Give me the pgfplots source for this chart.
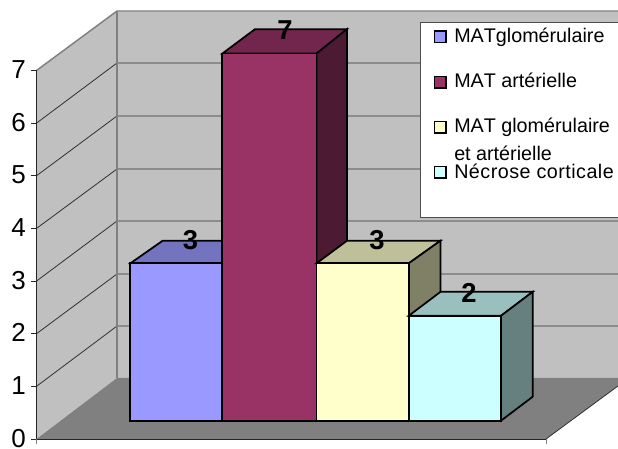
\documentclass[border=0pt]{standalone}
\usepackage{pgfplots}
\pgfplotsset{compat=1.18}
\usepackage{fontspec}
\setmainfont{Liberation Sans}
\definecolor{wall}{HTML}{C0C0C0}
\definecolor{floorc}{HTML}{808080}
\definecolor{gridc}{HTML}{303030}
\definecolor{blueF}{HTML}{9999FF}
\definecolor{blueT}{HTML}{7373BF}
\definecolor{plumF}{HTML}{993366}
\definecolor{plumT}{HTML}{73264D}
\definecolor{plumS}{HTML}{4D1A33}
\definecolor{creamF}{HTML}{FFFFCC}
\definecolor{creamT}{HTML}{BFBF99}
\definecolor{creamS}{HTML}{808066}
\definecolor{aquaF}{HTML}{CCFFFF}
\definecolor{aquaT}{HTML}{99BFBF}
\definecolor{aquaS}{HTML}{668080}
\begin{document}
\begin{tikzpicture}
\path[use as bounding box] (0,0) rectangle (463.5pt,336.75pt);

% Chamber: walls, floor and value grid; y is the count on the front plane
\begin{axis}[
  at={(27.375pt,7.5pt)}, anchor=south west, scale only axis,
  width=382.125pt, height=276.375pt,
  xmin=36.5, xmax=546, ymin=0, ymax=7,
  clip=false, axis on top,
  axis x line=bottom, axis y line=left,
  axis line style={-, line width=0.7pt, color=black!85},
  ytick={0,1,2,3,4,5,6,7},
  xtick={546}, xticklabels={},
  extra x ticks={36.5}, extra x tick labels={},
  extra x tick style={tick style={color=black!85, line width=0.6pt}},
  tick align=outside, major tick length=4pt,
  ytick style={color=black!85, line width=0.6pt},
  xtick style={color=gray, line width=0.6pt},
  yticklabel style={font=\fontsize{19.5}{20}\selectfont, inner sep=0pt, xshift=-3.8pt, yshift=0.6pt},
  /pgf/number format/assume math mode=true,
  no markers,
]
\addplot[fill=wall, draw=none] coordinates {(36.5,0)(36.5,7)(117,8.13)(117,1.159)} -- cycle;
\addplot[fill=wall, draw=none] coordinates {(117,1.159)(117,8.13)(618,8.13)(618,1.159)} -- cycle;
\addplot[fill=floorc, draw=none] coordinates {(36.5,0)(117,1.159)(618,1.159)(618,1.007)(546,0)} -- cycle;
\addplot[gridc, line width=0.6pt] coordinates {(546,0)(618,1.007)};
\addplot[gridc, line width=0.6pt] coordinates {(36.5,1)(117,2.146)(618,2.146)};
\addplot[gridc, line width=0.6pt] coordinates {(36.5,2)(117,3.134)(618,3.134)};
\addplot[gridc, line width=0.6pt] coordinates {(36.5,3)(117,4.141)(618,4.141)};
\addplot[gridc, line width=0.6pt] coordinates {(36.5,4)(117,5.129)(618,5.129)};
\addplot[gridc, line width=0.6pt] coordinates {(36.5,5)(117,6.136)(618,6.136)};
\addplot[gridc, line width=0.6pt] coordinates {(36.5,6)(117,7.143)(618,7.143)};
\addplot[floorc, line width=1.1pt] coordinates {(36.5,7)(117,8.13)(618,8.13)};
\addplot[floorc, line width=1.1pt] coordinates {(117,8.13)(117,1.159)};
\end{axis}

% Bars: y is the count measured from the bar base
\begin{axis}[
  at={(27.375pt,21.225pt)}, anchor=south west, scale only axis,
  width=382.125pt, height=275.36pt,
  xmin=36.5, xmax=546, ymin=0, ymax=7,
  clip=false, hide axis, no markers,
  /pgf/number format/assume math mode=true,
  bar/.style={draw=black, line width=1.3pt, line join=miter},
]
\addplot[bar, fill=blueT] coordinates {(130.3,3)(162.7,3.432)(254.7,3.432)(222.3,3)} -- cycle;
\addplot[bar, fill=blueF] coordinates {(130.3,0)(130.3,3)(222.3,3)(222.3,0)} -- cycle;

\addplot[bar, fill=plumT] coordinates {(222.3,7)(255,7.465)(347,7.465)(316.5,7)} -- cycle;
\addplot[bar, fill=plumS] coordinates {(316.5,0)(316.5,7)(347,7.465)(347,0.457)} -- cycle;
\addplot[bar, fill=plumF] coordinates {(222.3,0)(222.3,7)(316.5,7)(316.5,0)} -- cycle;

\addplot[bar, fill=creamT] coordinates {(316.5,3)(347,3.432)(440.5,3.432)(408.7,3)} -- cycle;
\addplot[bar, fill=creamS] coordinates {(408.7,0)(408.7,3)(440.5,3.432)(440.5,0.457)} -- cycle;
\addplot[bar, fill=creamF] coordinates {(316.5,0)(316.5,3)(408.7,3)(408.7,0)} -- cycle;

\addplot[bar, fill=aquaT] coordinates {(408.7,2)(440.5,2.457)(532.7,2.457)(501,2)} -- cycle;
\addplot[bar, fill=aquaS] coordinates {(501,0)(501,2)(532.7,2.457)(532.7,0.457)} -- cycle;
\addplot[bar, fill=aquaF] coordinates {(408.7,0)(408.7,2)(501,2)(501,0)} -- cycle;

% Value labels above each bar
\addplot[draw=none, nodes near coords,
  every node near coord/.append style={anchor=center, yshift=17.5pt, inner sep=0pt,
    text=black, font=\bfseries\fontsize{20.5}{21}\selectfont}]
  coordinates {(190.5,3)(285,7)(377,3)(469,2)};
\end{axis}

% Key, positioned in picture units with y running downward
\begin{scope}[shift={(0pt,336.75pt)}, x=0.75pt, y=-0.75pt,
    lab/.style={anchor=base west, inner sep=0pt,
      font=\fontsize{14.8}{16}\selectfont\addfontfeature{Kerning=Off}},
    sw/.style={draw=black, line width=0.9pt}]
\fill[white] (420,22.7) rectangle (625,217.7);
\draw[black!70, line width=0.7pt] (625,22.7) -- (420,22.7) -- (420,217.7) -- (625,217.7);
\draw[sw, fill=blueF] (434.5,31) rectangle (446,42.5);
\draw[sw, fill=plumF] (434.5,76.5) rectangle (446,88);
\draw[sw, fill=creamF] (434.5,121.7) rectangle (446,133);
\draw[sw, fill=aquaF] (434.5,166.7) rectangle (446,178);
\node[lab] at (454,43) {MATglomérulaire};
\node[lab] at (454,87.7) {MAT artérielle};
\node[lab] at (454,133) {MAT glomérulaire};
\node[lab] at (454,160.7) {et artérielle};
\node[lab] at (454,179) {\addfontfeature{LetterSpace=2.4}Nécrose corticale};
\end{scope}
\end{tikzpicture}
\end{document}
